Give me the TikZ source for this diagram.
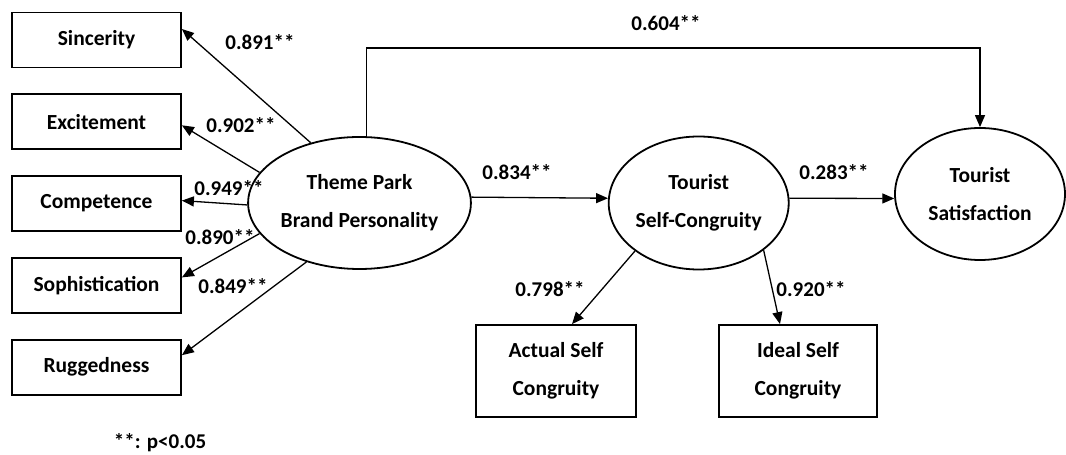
\documentclass[tikz,border=0pt]{standalone}
\usepackage{fontspec}
\setmainfont{Carlito}
\usepackage{tikz}
\usetikzlibrary{shapes.geometric, arrows.meta, calc, positioning}
\tikzstyle{construct} = [ellipse, line width=1.8pt, minimum width=182pt, minimum height=132pt, inner sep=0pt, align=center, draw=black, font=\fontsize{21.5}{38}\selectfont\bfseries]
\tikzstyle{indicator} = [rectangle, line width=1.8pt, minimum width=169pt, minimum height=55pt, align=center, draw=black, font=\fontsize{21.5}{38}\selectfont\bfseries]
\tikzstyle{coef} = [inner sep=0pt, font=\fontsize{21}{24}\selectfont\bfseries]
\tikzstyle{arrow} = [line width=1.3pt, -{Triangle[length=12pt, width=10pt]}]

\begin{document}
\begin{tikzpicture}[x=1pt, y=1pt, node distance = 25pt]
		\useasboundingbox (0,0) rectangle (1066,455);
		% latent constructs
		\node (ThemePark) [construct] at (359.5,252) {Theme Park\\Brand Personality};
		\node (SelfCongruity) [construct, minimum width=180pt, minimum height=133pt, right = 136pt of ThemePark] {Tourist\\Self-Congruity};
		\node (Satisfaction) [construct, minimum width=170pt] at (980,261) {Tourist\\Satisfaction};
		
		% brand personality dimensions
		\node (Sincerity) [indicator] at (96.5,415) {Sincerity};
		\node (Excitement) [indicator, below = of Sincerity] {Excitement};
		\node (Competence) [indicator, below = of Excitement] {Competence};
		\node (Sophistication) [indicator, below = of Competence] {Sophistication};
		\node (Ruggedness) [indicator, below = of Sophistication] {Ruggedness};
		
		% self-congruity dimensions
		\node (ActualSelf) [indicator, minimum width=160pt, minimum height=92pt] at (556,84) {Actual Self\\Congruity};
		\node (IdealSelf) [indicator, minimum width=158pt, minimum height=92pt] at (798,84) {Ideal Self\\Congruity};
		
		% path coefficients
		\node (C891) [coef] at (260,413) {0.891**};
		\node (C902) [coef] at (241,330) {0.902**};
		\node (C949) [coef] at (229,267) {0.949**};
		\node (C890) [coef] at (220,218) {0.890**};
		\node (C849) [coef] at (233,169) {0.849**};
		\node (C834) [coef] at (517,283) {0.834**};
		\node (C283) [coef] at (834,283) {0.283**};
		\node (C604) [coef] at (666,432) {0.604**};
		\node (C798) [coef] at (550,166) {0.798**};
		\node (C920) [coef] at (811,166) {0.920**};
		\node (Note) [coef] at (160,12) {**: p<0.05};
		
		\coordinate (TopBend) at (980,407);
		
		\draw [arrow] (ThemePark.129) -- ([yshift=11pt]Sincerity.east);
		\draw [arrow] (ThemePark.163) -- ([yshift=-3.5pt]Excitement.east);
		\draw [arrow] (ThemePark.181) -- ([yshift=3pt]Competence.east);
		\draw [arrow] (ThemePark.197) -- ([yshift=8pt]Sophistication.east);
		\draw [arrow] (ThemePark.228) -- ([yshift=12pt]Ruggedness.east);
		\draw [arrow] (ThemePark.3) -- (SelfCongruity.177);
		\draw [arrow] (SelfCongruity.3) -- (Satisfaction.183);
		\draw [arrow] ([xshift=7pt]ThemePark.north) |- (TopBend) -- (Satisfaction.north);
		\draw [arrow] (SelfCongruity.217) -- ([xshift=16pt]ActualSelf.north);
		\draw [arrow] (SelfCongruity.324) -- ([xshift=-18pt]IdealSelf.north);
\end{tikzpicture}
\end{document}
